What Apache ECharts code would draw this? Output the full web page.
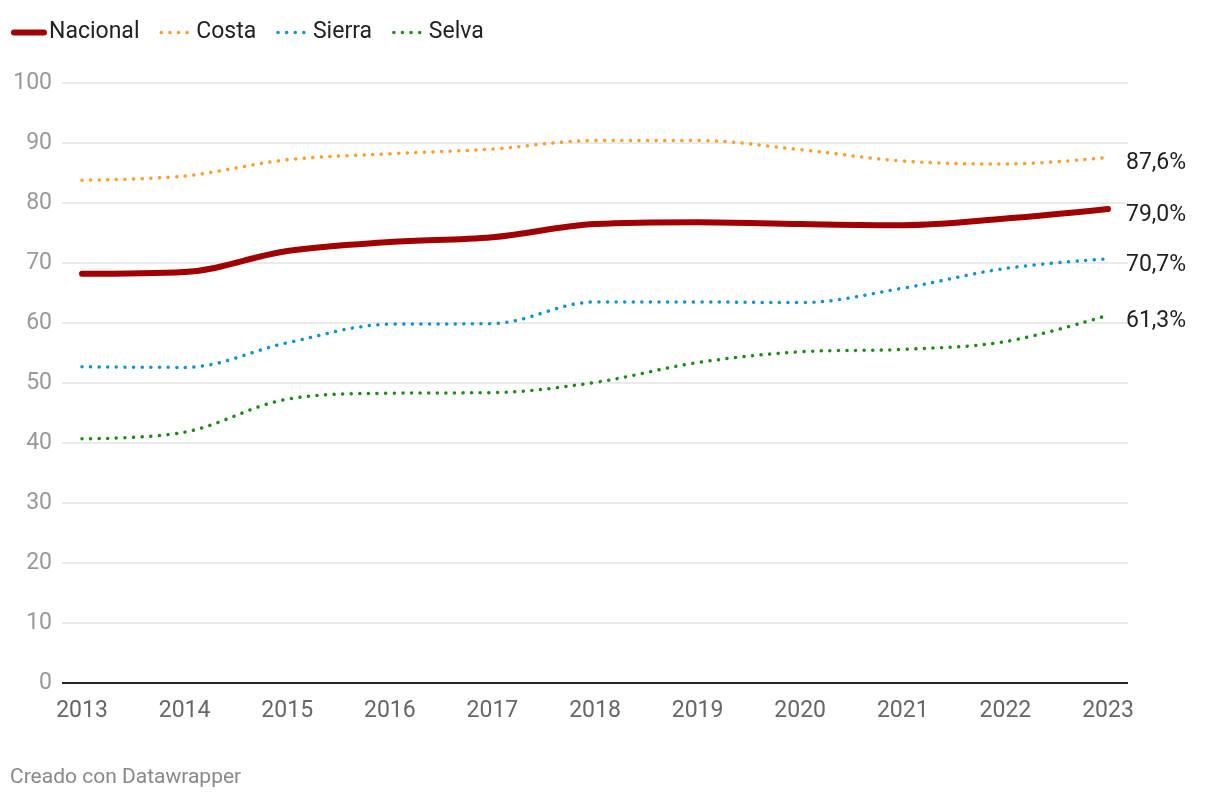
<!DOCTYPE html>
<html><head><meta charset="utf-8">
<script src="https://cdn.jsdelivr.net/npm/echarts@6/dist/echarts.min.js"></script>
<style>html,body{margin:0;padding:0;background:#fff}#c{width:1220px;height:800px}</style>
</head><body><div id="c"></div>
<script>
const years = [2013,2014,2015,2016,2017,2018,2019,2020,2021,2022,2023];
const nacional = [68.2,68.5,72.0,73.5,74.3,76.5,76.8,76.5,76.3,77.4,79.0];
const costa = [83.8,84.5,87.2,88.2,89.0,90.4,90.4,88.9,87.0,86.5,87.6];
const sierra = [52.7,52.6,56.7,59.8,59.9,63.5,63.5,63.4,65.8,69.1,70.7];
const selva = [40.7,41.8,47.3,48.3,48.4,50.1,53.4,55.2,55.6,56.9,61.3];
const yTicks = [0,10,20,30,40,50,60,70,80,90,100];

const FONT = 'Roboto';
const DOT = [0.1,8.5];
function mk(name, arr, color, solid){
  return {
    name, type:'line', data: years.map((y,i)=>[y,arr[i]]),
    smooth:0.35, symbol:'none', showSymbol:false,
    lineStyle: solid ? {color, width:6, cap:'round', join:'round'} : {color, width:3.5, type:DOT, cap:'round'},
    itemStyle:{color},
    endLabel:{show:true, distance:18, offset:[0,6], color:'#222', fontFamily:FONT, fontSize:23,
      formatter:p=>p.value[1].toFixed(1).replace('.',',')+'%'},
    emphasis:{disabled:true}, z: solid?5:3
  };
}
const chart = echarts.init(document.getElementById('c'));
chart.setOption({
  animation:false,
  textStyle:{fontFamily:FONT},
  legend:{left:6, top:16, itemWidth:30, itemHeight:14, itemGap:20,
    itemStyle:{opacity:0, borderWidth:0},
    textStyle:{fontSize:23, color:'#222', fontFamily:FONT},
    data:[
      {name:'Nacional', lineStyle:{width:6, cap:'round', color:'#a00000'}},
      {name:'Costa', lineStyle:{width:3.5, type:DOT, cap:'round', color:'#f89e2a'}},
      {name:'Sierra', lineStyle:{width:3.5, type:DOT, cap:'round', color:'#1494c4'}},
      {name:'Selva', lineStyle:{width:3.5, type:DOT, cap:'round', color:'#23881e'}}
    ]},
  grid:{left:62, right:92, top:83, bottom:117},
  xAxis:{type:'value', min:2012.805, max:2023.195,
    axisLine:{show:false}, axisTick:{show:false}, splitLine:{show:false},
    axisLabel:{customValues:years, color:'#666', fontSize:23, fontFamily:FONT, margin:17, formatter:v=>String(Math.round(v))}},
  yAxis:{type:'value', min:0, max:100, interval:10,
    axisLine:{show:false}, axisTick:{show:false},
    axisLabel:{color:'#999', fontSize:23, fontFamily:FONT, margin:10},
    splitLine:{lineStyle:{color:'#e3e3e3', width:1.5}}},
  series:[
    mk('Nacional', nacional, '#a00000', true),
    mk('Costa', costa, '#f89e2a', false),
    mk('Sierra', sierra, '#1494c4', false),
    mk('Selva', selva, '#23881e', false),
    {type:'line', data:[[2012.805,0],[2023.195,0]], symbol:'none', silent:true,
     lineStyle:{color:'#222', width:2}, z:6, legendHoverLink:false}
  ],
  graphic:[{type:'text', left:10, top:767, style:{text:'Creado con Datawrapper', fill:'#888', fontSize:21, fontFamily:FONT}}]
});
</script></body></html>
